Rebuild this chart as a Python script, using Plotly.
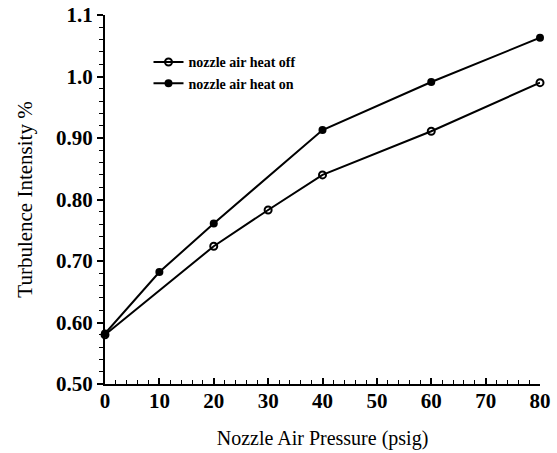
import plotly.graph_objects as go

pressure = [0, 20, 30, 40, 60, 80]
heat_off = [0.580, 0.724, 0.783, 0.840, 0.911, 0.990]

pressure_on = [0, 10, 20, 40, 60, 80]
heat_on = [0.582, 0.682, 0.761, 0.913, 0.991, 1.063]

y_ticks = [0.5, 0.6, 0.7, 0.8, 0.9, 1.0, 1.1]
y_labels = ["0.50", "0.60", "0.70", "0.80", "0.90", "1.0", "1.1"]
x_ticks = [0, 10, 20, 30, 40, 50, 60, 70, 80]

FONT = "Liberation Serif"

fig = go.Figure()
fig.add_trace(go.Scatter(
    x=pressure, y=heat_off, mode="lines+markers", name="nozzle air heat off",
    line=dict(color="black", width=2),
    marker=dict(symbol="circle-open", size=7, color="black", line=dict(width=2)),
    cliponaxis=False,
))
fig.add_trace(go.Scatter(
    x=pressure_on, y=heat_on, mode="lines+markers", name="nozzle air heat on",
    line=dict(color="black", width=2),
    marker=dict(symbol="circle", size=8, color="black"),
    cliponaxis=False,
))

fig.update_layout(
    width=557, height=453,
    margin=dict(l=105, r=17, t=15, b=69),
    paper_bgcolor="white", plot_bgcolor="white",
    font=dict(family=FONT, color="black"),
    showlegend=True,
    legend=dict(
        x=0.10, y=0.915, xanchor="left", yanchor="top",
        bgcolor="rgba(0,0,0,0)",
        font=dict(family=FONT, size=14, color="black", weight="bold"),
        tracegroupgap=0, itemwidth=30,
    ),
    xaxis=dict(
        range=[0, 80], tickvals=x_ticks, automargin=False,
        showline=True, linecolor="black", linewidth=2,
        ticks="inside", ticklen=6, tickwidth=2, tickcolor="black",
        minor=dict(dtick=2, ticks="inside", ticklen=4, tickwidth=1, tickcolor="black"),
        showgrid=False, zeroline=False, ticklabelstandoff=-3,
        tickfont=dict(family=FONT, size=21, weight="bold"),
        title=dict(text="Nozzle Air Pressure (psig)", font=dict(family=FONT, size=20), standoff=19),
    ),
    yaxis=dict(
        range=[0.5, 1.1], tickvals=y_ticks, ticktext=y_labels, automargin=False,
        showline=True, linecolor="black", linewidth=2,
        ticks="outside", ticklen=6, tickwidth=2, tickcolor="black",
        minor=dict(dtick=0.02, ticks="outside", ticklen=4, tickwidth=1, tickcolor="black"),
        showgrid=False, zeroline=False,
        tickfont=dict(family=FONT, size=21, weight="bold"),
        title=dict(text="Turbulence Intensity %", font=dict(family=FONT, size=21), standoff=18),
    ),
)

fig.write_html("out.html")
